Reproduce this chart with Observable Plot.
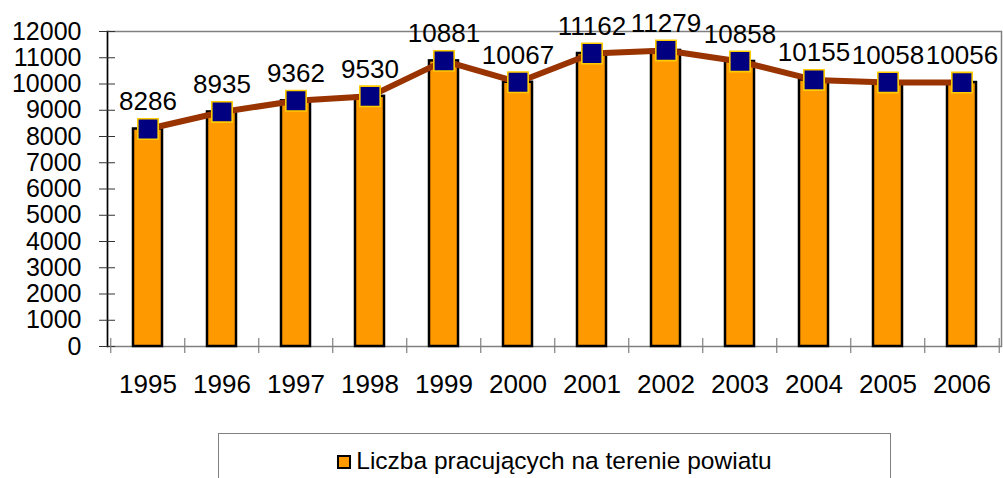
<!DOCTYPE html>
<html><head><meta charset="utf-8">
<script src="https://cdn.jsdelivr.net/npm/d3@7"></script>
<script src="https://cdn.jsdelivr.net/npm/@observablehq/plot@0.6"></script>
<style>
body{margin:0;background:#fff;font-family:"Liberation Sans",Arial,sans-serif;}
#wrap{position:relative;width:1003px;height:478px;overflow:hidden;background:#fff;}
#legend{position:absolute;left:218px;top:433px;width:673px;height:60px;border:1px solid #808080;box-sizing:border-box;background:#fff;}
#legend .item{position:absolute;left:0;right:0;top:13px;text-align:center;font-size:24.5px;color:#000;white-space:nowrap;}
#legend .sw{display:inline-block;width:10px;height:10px;background:#FF9900;border:2px solid #000;margin-right:5px;vertical-align:0px;}
</style></head>
<body><div id="wrap"><div id="chart"></div>
<div id="legend"><div class="item"><span class="sw"></span>Liczba pracujących na terenie powiatu</div></div></div>
<script>
const years = ["1995","1996","1997","1998","1999","2000","2001","2002","2003","2004","2005","2006"];
const values = [8286, 8935, 9362, 9530, 10881, 10067, 11162, 11279, 10858, 10155, 10058, 10056];
const yTicks = [0,1000,2000,3000,4000,5000,6000,7000,8000,9000,10000,11000,12000];
const data = years.map((y, i) => ({year: y, value: values[i]}));

const W = 1003, H = 420, ML = 107, MR = 2, MT = 31, MB = 74;
const plotW = W - ML - MR, plotH = H - MT - MB;
const step = plotW / years.length;

const chart = Plot.plot({
  width: W, height: H,
  marginLeft: ML, marginRight: MR, marginTop: MT, marginBottom: MB,
  style: {fontFamily: "'Liberation Sans', Arial, sans-serif", fontSize: "26px", color: "#000", background: "#fff"},
  x: {domain: years, paddingInner: 0.61, paddingOuter: 0.305, label: null},
  y: {domain: [0, 12000], label: null},
  marks: [
    Plot.frame({stroke: "#808080", strokeWidth: 1.5}),
    Plot.barY(data, {x: "year", y: "value", fill: "#FF9900", stroke: "#000", strokeWidth: 2.5}),
    Plot.frame({anchor: "left", stroke: "#000", strokeWidth: 1.5}),
    Plot.ruleY(yTicks, {y: d => d, stroke: "#333", strokeWidth: 1, insetLeft: -8, insetRight: plotW - 8}),
    Plot.ruleX(years, {x: d => d, dx: -step / 2, stroke: "#808080", strokeWidth: 1.2, insetTop: plotH - 8, insetBottom: -7}),
    Plot.ruleX([years[years.length - 1]], {x: d => d, dx: step / 2, stroke: "#808080", strokeWidth: 1.2, insetTop: plotH - 8, insetBottom: -7}),
    Plot.axisY({ticks: yTicks, tickSize: 0, tickPadding: 26, tickFormat: d => String(d), fill: "#000", fontSize: 25, label: null}),
    Plot.axisX({tickSize: 0, tickPadding: 28, fill: "#000", fontSize: 26, label: null}),
    Plot.line(data, {x: "year", y: "value", stroke: "#993300", strokeWidth: 6}),
    Plot.dot(data, {x: "year", y: "value", symbol: "square", r: 11.5, fill: "#000080", stroke: "#FFCC00", strokeWidth: 1.6}),
    Plot.text(data, {x: "year", y: "value", text: d => String(d.value), dy: -27, fill: "#000", fontSize: 26, lineAnchor: "middle"})
  ]
});
document.getElementById("chart").appendChild(chart);
</script>
</body></html>
